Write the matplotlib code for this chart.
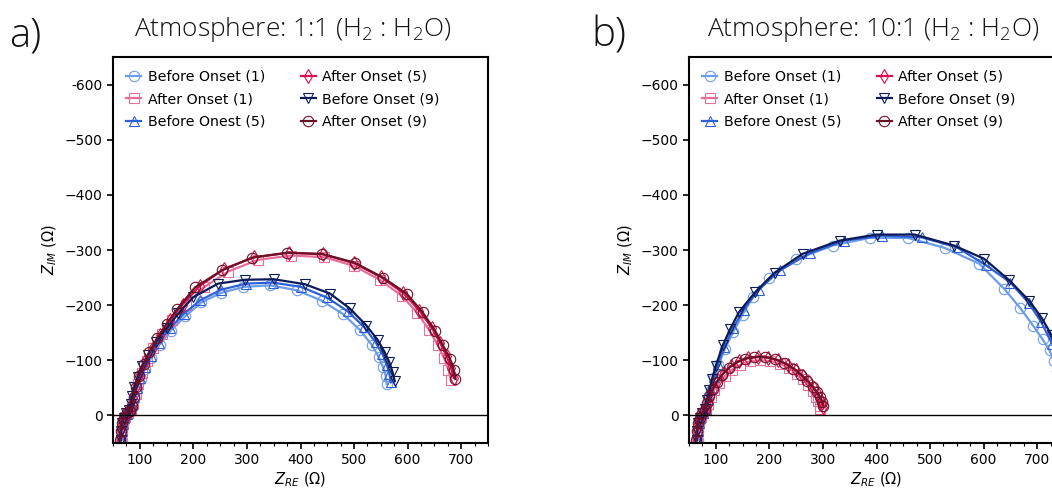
import matplotlib
matplotlib.use("Agg")
import matplotlib.pyplot as plt
from matplotlib.ticker import MultipleLocator

# ---------------- data ----------------
labels = ["Before Onset (1)", "After Onset (1)", "Before Onest (5)",
          "After Onset (5)", "Before Onset (9)", "After Onset (9)"]
markers = ["o", "s", "^", "d", "v", "o"]
colors = ["#6d9de6", "#e6709a", "#2f5fd8", "#dc0d4c", "#0c1a58", "#6a1226"]

# panel a) 1:1 atmosphere
a_bo1_x = [66, 67, 69, 72, 77, 82, 86, 90, 95, 102, 110, 121, 137, 158, 185, 215, 251, 293, 343, 393, 440, 479, 511, 533, 546, 554, 559, 561]
a_bo1_y = [45, 30, 16, 6, -2, -8, -18, -32, -48, -66, -84, -104, -128, -154, -180, -205, -222, -233, -236, -227, -208, -184, -155, -128, -106, -88, -72, -57]
a_ao1_x = [65, 66, 68, 72, 78, 84, 88, 92, 97, 104, 113, 125, 141, 161, 186, 219, 265, 320, 382, 444, 500, 548, 589, 618, 640, 656, 668, 676, 681]
a_ao1_y = [45, 27, 13, 3, -4, -9, -21, -38, -57, -77, -99, -122, -147, -173, -200, -232, -261, -282, -290, -287, -271, -246, -217, -186, -155, -128, -104, -83, -64]
a_bo5_x = [65, 66, 68, 71, 76, 81, 85, 89, 94, 101, 109, 120, 135, 156, 182, 213, 252, 298, 348, 401, 449, 488, 519, 540, 553, 561, 566, 569]
a_bo5_y = [45, 28, 15, 5, -3, -9, -19, -33, -50, -68, -87, -108, -132, -158, -184, -209, -228, -239, -241, -233, -214, -189, -160, -133, -111, -92, -75, -60]
a_ao5_x = [64, 65, 67, 71, 77, 83, 87, 90, 95, 101, 110, 122, 137, 156, 180, 212, 258, 314, 378, 442, 500, 550, 592, 622, 645, 661, 673, 681, 686]
a_ao5_y = [45, 27, 13, 3, -5, -9, -20, -37, -56, -76, -98, -121, -146, -173, -201, -235, -266, -287, -295, -292, -276, -251, -222, -190, -159, -131, -107, -86, -68]
a_bo9_x = [64, 65, 67, 70, 75, 80, 83, 86, 90, 96, 104, 115, 130, 150, 172, 199, 246, 296, 350, 408, 455, 492, 523, 544, 557, 566, 572, 576]
a_bo9_y = [45, 28, 14, 4, -4, -9, -20, -35, -52, -70, -90, -110, -133, -158, -185, -214, -239, -246, -247, -238, -221, -194, -163, -137, -115, -96, -78, -62]
a_ao9_x = [63, 64, 66, 70, 76, 82, 86, 89, 93, 99, 107, 118, 132, 150, 170, 203, 253, 309, 375, 440, 501, 554, 598, 628, 651, 666, 679, 686, 689]
a_ao9_y = [45, 28, 14, 4, -4, -8, -18, -34, -52, -72, -93, -115, -140, -166, -193, -232, -263, -286, -295, -293, -277, -250, -221, -187, -154, -127, -103, -82, -66]

# panel b) 10:1 atmosphere
b_bo1_x = [66, 67, 69, 72, 77, 82, 86, 91, 97, 105, 117, 133, 150, 169, 200, 250, 318, 387, 458, 527, 592, 638, 668, 693, 710, 723, 731, 737]
b_bo1_y = [45, 29, 15, 5, -3, -11, -27, -46, -67, -91, -121, -152, -183, -214, -249, -283, -308, -322, -322, -304, -275, -230, -195, -162, -138, -118, -98, -80]
b_ao1_x = [65, 66, 68, 72, 77, 82, 86, 91, 97, 106, 117, 130, 146, 163, 182, 201, 219, 236, 251, 263, 273, 281, 287, 291, 294, 295]
b_ao1_y = [45, 27, 13, 3, -4, -10, -21, -33, -46, -59, -72, -83, -92, -98, -100, -99, -94, -86, -76, -66, -55, -44, -34, -26, -18, -11]
b_bo5_x = [65, 66, 68, 71, 76, 81, 85, 90, 96, 104, 116, 132, 152, 180, 220, 275, 340, 410, 484, 550, 605, 650, 684, 707, 728, 740, 748, 754]
b_bo5_y = [45, 28, 14, 4, -4, -12, -29, -48, -69, -94, -124, -158, -192, -228, -263, -294, -317, -326, -323, -305, -272, -241, -204, -170, -130, -108, -88, -70]
b_ao5_x = [64, 65, 67, 71, 76, 81, 85, 90, 96, 104, 115, 128, 143, 160, 179, 198, 217, 234, 250, 263, 274, 283, 290, 295, 298, 300]
b_ao5_y = [45, 27, 13, 3, -5, -11, -23, -36, -50, -64, -77, -89, -98, -104, -106, -105, -100, -92, -82, -71, -60, -49, -39, -30, -22, -15]
b_bo9_x = [64, 65, 67, 70, 75, 80, 84, 88, 93, 100, 113, 127, 143, 173, 210, 262, 331, 400, 471, 545, 601, 648, 685, 709, 727, 740, 750, 757]
b_bo9_y = [45, 28, 14, 4, -4, -12, -28, -46, -66, -90, -127, -157, -187, -223, -259, -293, -317, -328, -328, -308, -284, -245, -208, -176, -145, -118, -95, -75]
b_ao9_x = [63, 64, 66, 70, 75, 80, 84, 88, 94, 102, 112, 124, 138, 154, 172, 191, 210, 228, 245, 259, 271, 281, 289, 295, 299, 301]
b_ao9_y = [45, 28, 14, 4, -4, -10, -22, -35, -48, -61, -74, -86, -96, -103, -106, -106, -102, -95, -85, -74, -63, -52, -42, -33, -25, -18]

panel_a = [(a_bo1_x, a_bo1_y), (a_ao1_x, a_ao1_y), (a_bo5_x, a_bo5_y),
           (a_ao5_x, a_ao5_y), (a_bo9_x, a_bo9_y), (a_ao9_x, a_ao9_y)]
panel_b = [(b_bo1_x, b_bo1_y), (b_ao1_x, b_ao1_y), (b_bo5_x, b_bo5_y),
           (b_ao5_x, b_ao5_y), (b_bo9_x, b_bo9_y), (b_ao9_x, b_ao9_y)]

xticks = [100, 200, 300, 400, 500, 600, 700]
yticks = [-600, -500, -400, -300, -200, -100, 0]


def draw(ax, series, first_label):
    for (x, y), lab, m, c in zip(series, labels, markers, colors):
        ax.plot(x, y, color=c, lw=1.6, marker=m, ms=7.5, mfc="none",
                mec=c, mew=0.8, label=lab)
    ax.axhline(0, color="black", lw=1.0)
    ax.set_xlim(50, 750)
    ax.set_ylim(50, -650)
    ax.set_xticks(xticks)
    ax.xaxis.set_minor_locator(MultipleLocator(25))
    ax.set_yticks(yticks)
    ylabs = ["\u2212%d" % -v if v else "0" for v in yticks]
    ylabs[0] = first_label
    ax.set_yticklabels(ylabs)
    ax.tick_params(labelsize=10, width=1.2, length=4)
    ax.tick_params(which="minor", length=2.5, width=0.8)
    for s in ax.spines.values():
        s.set_linewidth(1.5)
    ax.set_xlabel(r"$Z_{RE}$ ($\Omega$)", fontsize=10.5, labelpad=2)
    ax.set_ylabel(r"$Z_{IM}$ ($\Omega$)", fontsize=10.5, labelpad=4)
    ax.legend(loc="upper left", ncol=2, frameon=False, fontsize=10.2,
              handlelength=1.1, numpoints=1, columnspacing=2.5,
              labelspacing=0.6, handletextpad=0.45, borderaxespad=0.5,
              borderpad=0.4)


fig = plt.figure(figsize=(10.52, 4.90), dpi=100)
W, H = 1052, 490
ax_a = fig.add_axes([113 / W, 47 / H, 375 / W, 386 / H])
ax_b = fig.add_axes([689 / W, 47 / H, 375 / W, 386 / H])
draw(ax_a, panel_a, "-600")
draw(ax_b, panel_b, "\u2212600")

tfont = dict(family=["Open Sans", "DejaVu Sans"], fontweight=300, color="#111111")
fig.text(293 / W, 1 - 30 / H, r"Atmosphere: 1:1 ($\mathregular{H_2}$ : $\mathregular{H_2O}$)",
         ha="center", va="center", fontsize=18.9, **tfont)
fig.text(873 / W, 1 - 30 / H, r"Atmosphere: 10:1 ($\mathregular{H_2}$ : $\mathregular{H_2O}$)",
         ha="center", va="center", fontsize=18.9, **tfont)
fig.text(9 / W, 1 - 36 / H, "a)", ha="left", va="center", fontsize=29, **tfont)
fig.text(591 / W, 1 - 36 / H, "b)", ha="left", va="center", fontsize=29, **tfont)

fig.savefig("out.png", dpi=100)
